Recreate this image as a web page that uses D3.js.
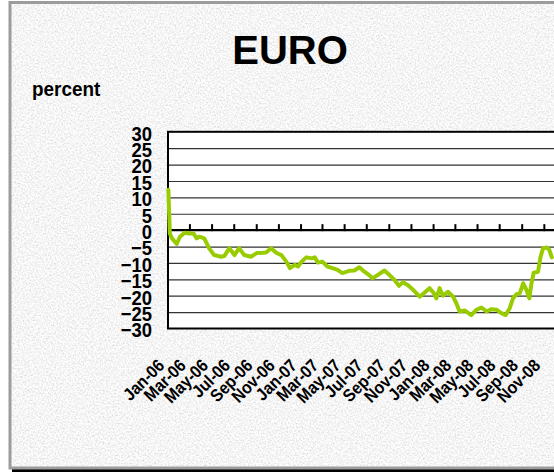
<!DOCTYPE html>
<html>
<head>
<meta charset="utf-8">
<script src="https://cdn.jsdelivr.net/npm/d3@7"></script>
<style>
  html, body { margin: 0; padding: 0; background: #ffffff; overflow: hidden; }
  text { font-family: "Liberation Sans", Arial, Helvetica, sans-serif; font-weight: bold; fill: #000; }
</style>
</head>
<body>
<svg id="chart" width="554" height="474"></svg>
<script>
// EURO exchange-rate change, percent
const chartTitle = "EURO";
const unitLabel = "percent";

const dates = [
  "2006-01-02","2006-01-06","2006-01-12","2006-01-25","2006-02-03","2006-02-16","2006-03-01","2006-03-12",
  "2006-03-21","2006-03-28","2006-04-11","2006-04-24","2006-05-08","2006-05-27","2006-06-05","2006-06-19",
  "2006-07-03","2006-07-16","2006-07-30","2006-08-18","2006-09-02","2006-09-19","2006-09-28","2006-10-12",
  "2006-10-26","2006-11-09","2006-11-23","2006-12-03","2006-12-16","2006-12-25","2007-01-04","2007-01-17",
  "2007-02-01","2007-02-09","2007-02-18","2007-03-02","2007-03-16","2007-03-30","2007-04-13","2007-04-26",
  "2007-05-15","2007-05-29","2007-06-12","2007-06-25","2007-07-09","2007-07-18","2007-08-01","2007-08-20",
  "2007-09-03","2007-09-17","2007-09-29","2007-10-10","2007-10-23","2007-11-07","2007-11-25","2007-12-09",
  "2007-12-22","2008-01-03","2008-01-10","2008-01-19","2008-01-28","2008-02-11","2008-02-25","2008-03-05",
  "2008-03-14","2008-03-28","2008-04-15","2008-04-29","2008-05-13","2008-05-27","2008-06-10","2008-06-24",
  "2008-07-07","2008-07-19","2008-07-30","2008-08-08","2008-08-18","2008-08-27","2008-09-05","2008-09-14",
  "2008-09-22","2008-09-28","2008-10-04","2008-10-16","2008-10-23","2008-10-30","2008-11-09","2008-11-16",
  "2008-11-23"
];
const values = [
  12.3, -1.0, -2.5, -4.2, -2.0, -0.8, -1.0, -1.0,
  -2.5, -2.0, -2.5, -5.5, -7.6, -8.1, -7.9, -5.5,
  -7.6, -5.5, -7.6, -8.1, -7.0, -6.9, -6.8, -5.5,
  -6.9, -7.6, -9.6, -11.6, -10.6, -11.1, -9.6, -8.3,
  -8.6, -8.3, -9.9, -9.6, -11.1, -11.6, -12.1, -13.1,
  -12.4, -12.3, -11.3, -12.6, -13.7, -14.7, -13.7, -12.3,
  -13.7, -15.2, -17.0, -15.9, -16.7, -18.2, -20.3, -19.0,
  -17.7, -19.2, -20.8, -17.7, -20.0, -18.8, -20.3, -22.3,
  -24.8, -24.5, -25.9, -24.3, -23.6, -24.8, -24.1, -24.3,
  -25.3, -25.9, -23.8, -20.8, -19.5, -19.2, -16.2, -18.2,
  -20.8, -16.2, -13.0, -12.7, -8.1, -5.5, -5.3, -6.0,
  -8.3
];
const yTicks = [30, 25, 20, 15, 10, 5, 0, -5, -10, -15, -20, -25, -30];
const xTickLabels = ["Jan-06","Mar-06","May-06","Jul-06","Sep-06","Nov-06",
                     "Jan-07","Mar-07","May-07","Jul-07","Sep-07","Nov-07",
                     "Jan-08","Mar-08","May-08","Jul-08","Sep-08","Nov-08"];

const parseDay = d3.timeParse("%Y-%m-%d");
const parseMonth = d3.timeParse("%b-%y");
const series = dates.map((d, i) => ({ date: parseDay(d), value: values[i] }));
const tickDates = xTickLabels.map(parseMonth);

const svg = d3.select("#chart");

// squeeze a bold label horizontally so it reads tall and narrow
function condense(sel, ratio) {
  sel.each(function () {
    const w = this.getComputedTextLength();
    d3.select(this).attr("textLength", w * ratio).attr("lengthAdjust", "spacingAndGlyphs");
  });
}

// granite-like fill of the chart area
const defs = svg.append("defs");
const f = defs.append("filter").attr("id", "granite")
  .attr("x", 0).attr("y", 0).attr("width", "100%").attr("height", "100%");
f.append("feTurbulence").attr("type", "fractalNoise")
  .attr("baseFrequency", "0.6").attr("numOctaves", 3).attr("seed", 7).attr("result", "n");
f.append("feColorMatrix").attr("in", "n").attr("type", "matrix")
  .attr("values", "0.55 0 0 0 0.64  0.55 0 0 0 0.64  0.55 0 0 0 0.64  0 0 0 0 1");

const plot = { left: 168, top: 131.8, right: 566, bottom: 328.5 };

svg.append("rect").attr("x", 10).attr("y", 2).attr("width", 560).attr("height", 466)
  .attr("filter", "url(#granite)");
// drop shadow along the bottom edge
svg.append("rect").attr("x", 12).attr("y", 468).attr("width", 560).attr("height", 4).attr("fill", "#000");
// chart area border
svg.append("rect").attr("x", 10).attr("y", 2.5).attr("width", 560).attr("height", 465.5)
  .attr("fill", "none").attr("stroke", "#9c9c9c").attr("stroke-width", 3);

const x = d3.scaleTime()
  .domain([new Date(2006, 0, 1), new Date(2009, 0, 1)])
  .range([plot.left, plot.right]);
const y = d3.scaleLinear().domain([-30, 30]).range([plot.bottom, plot.top]);

// plot area
svg.append("rect").attr("x", plot.left).attr("y", plot.top)
  .attr("width", plot.right - plot.left).attr("height", plot.bottom - plot.top)
  .attr("fill", "#ffffff");

// horizontal gridlines
svg.append("g").attr("transform", `translate(${plot.left},0)`)
  .call(d3.axisLeft(y).tickValues(yTicks.filter(v => v !== 0 && v !== 30 && v !== -30))
    .tickSize(-(plot.right - plot.left)).tickFormat(""))
  .call(g => g.select(".domain").remove())
  .call(g => g.selectAll("line").attr("stroke", "#333").attr("stroke-width", 1.2));

// plot border
svg.append("rect").attr("x", plot.left).attr("y", plot.top)
  .attr("width", plot.right - plot.left).attr("height", plot.bottom - plot.top)
  .attr("fill", "none").attr("stroke", "#000").attr("stroke-width", 2);

// y labels
svg.append("g").attr("transform", `translate(${plot.left},0)`)
  .call(d3.axisLeft(y).tickValues(yTicks).tickSize(0).tickPadding(16).tickFormat(d3.format("d")))
  .call(g => g.select(".domain").remove())
  .call(g => g.selectAll("text")
    .attr("font-size", 20.5).attr("dy", "0.41em")
    .style("font-family", "'Liberation Sans', Arial, sans-serif").style("font-weight", "bold")
    .call(condense, 0.9));

// zero axis with tick marks
svg.append("g").attr("transform", `translate(0,${y(0)})`)
  .call(d3.axisTop(x).tickValues(tickDates).tickSize(6).tickFormat(""))
  .call(g => g.select(".domain").attr("stroke", "#000").attr("stroke-width", 2.2)
    .attr("d", `M${plot.left},0H${plot.right}`))
  .call(g => g.selectAll(".tick line").attr("stroke", "#000").attr("stroke-width", 2)
    .attr("y2", -6).attr("y1", 1));

// series line
svg.append("path").datum(series)
  .attr("fill", "none").attr("stroke", "#99cc00").attr("stroke-width", 4)
  .attr("stroke-linejoin", "round").attr("stroke-linecap", "round")
  .attr("d", d3.line().x(d => x(d.date)).y(d => y(d.value)));

// rotated month labels
svg.append("g").attr("transform", `translate(0,${plot.bottom})`)
  .call(d3.axisBottom(x).tickValues(tickDates).tickSize(0).tickFormat((d, i) => xTickLabels[i]))
  .call(g => g.select(".domain").remove())
  .call(g => g.selectAll("text")
    .attr("font-size", 17.5).attr("text-anchor", "end").attr("dy", null).attr("y", 0)
    .attr("transform", "translate(-3,38) rotate(-45)")
    .style("font-family", "'Liberation Sans', Arial, sans-serif").style("font-weight", "bold")
    .call(condense, 0.9));

// titles
svg.append("text").attr("x", 290).attr("y", 64).attr("text-anchor", "middle")
  .attr("font-size", 40).text(chartTitle);
svg.append("text").attr("x", 32).attr("y", 96).attr("font-size", 19.5).text(unitLabel)
  .call(condense, 0.97);
</script>
</body>
</html>
